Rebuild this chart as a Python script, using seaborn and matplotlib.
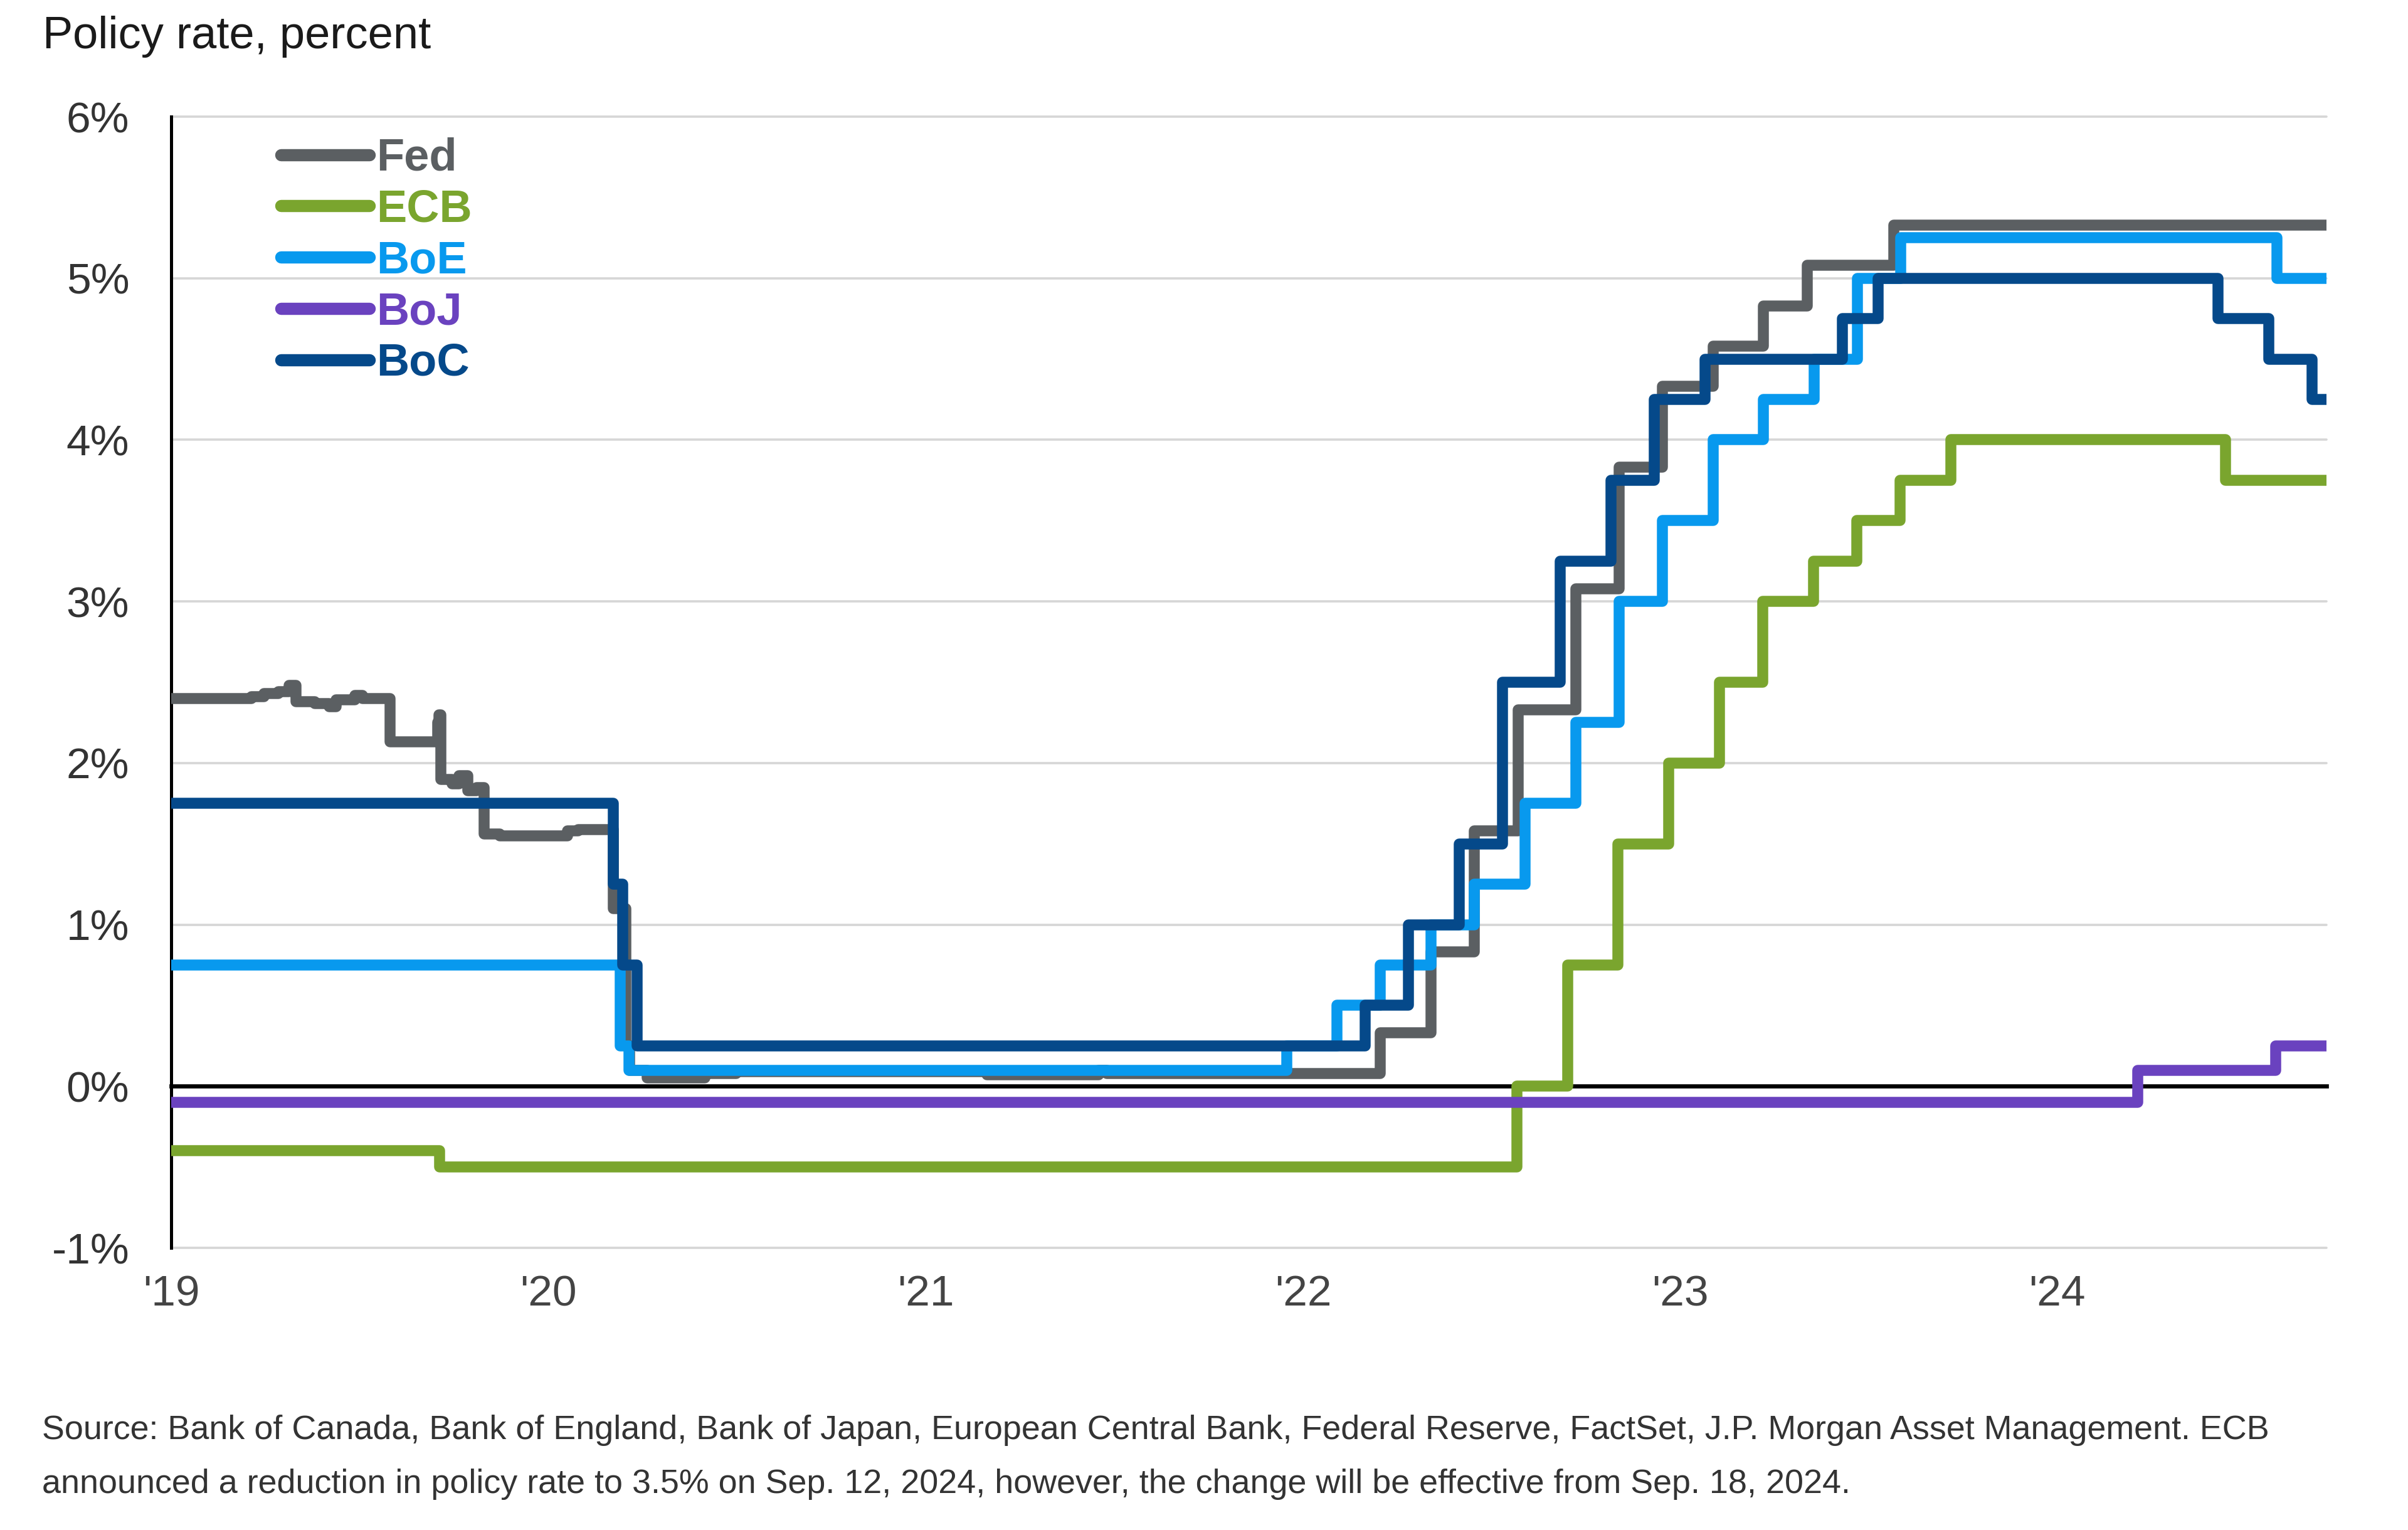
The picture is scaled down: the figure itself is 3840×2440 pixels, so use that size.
import matplotlib
matplotlib.use("Agg")
import matplotlib.pyplot as plt
from matplotlib.lines import Line2D
import seaborn as sns
import pandas as pd

# ---------------- data ----------------
banks = ["Fed", "ECB", "BoE", "BoJ", "BoC"]
colors = ["#5b5f62", "#7aa52e", "#0899ee", "#6a42bf", "#05498a"]

fed_dates = ["2019-01-01", "2019-03-20", "2019-04-01", "2019-04-15", "2019-04-25", "2019-05-02",
             "2019-05-20", "2019-06-03", "2019-06-10", "2019-06-28", "2019-07-05", "2019-08-01",
             "2019-09-16", "2019-09-17", "2019-09-19", "2019-09-30", "2019-10-07", "2019-10-15",
             "2019-10-24", "2019-10-31", "2019-11-15", "2020-01-20", "2020-01-30", "2020-03-04",
             "2020-03-16", "2020-03-20", "2020-04-06", "2020-06-01", "2020-07-01", "2021-03-01",
             "2021-06-17", "2021-06-25", "2022-03-17", "2022-05-05", "2022-06-16", "2022-07-28",
             "2022-09-22", "2022-11-03", "2022-12-15", "2023-02-02", "2023-03-23", "2023-05-04",
             "2023-07-27", "2024-09-18"]
fed_rates = [2.40, 2.41, 2.43, 2.44, 2.48, 2.38,
             2.37, 2.35, 2.39, 2.42, 2.40, 2.13,
             2.25, 2.30, 1.90, 1.87, 1.92, 1.83,
             1.85, 1.56, 1.55, 1.58, 1.59, 1.10,
             0.25, 0.10, 0.05, 0.08, 0.09, 0.07,
             0.10, 0.08, 0.33, 0.83, 1.58, 2.33,
             3.08, 3.83, 4.33, 4.58, 4.83, 5.08,
             5.33, 5.33]

ecb_dates = ["2019-01-01", "2019-09-18", "2022-07-27", "2022-09-14", "2022-11-02", "2022-12-21",
             "2023-02-08", "2023-03-22", "2023-05-10", "2023-06-21", "2023-08-02", "2023-09-20",
             "2024-06-12", "2024-09-18"]
ecb_rates = [-0.40, -0.50, 0.00, 0.75, 1.50, 2.00,
             2.50, 3.00, 3.25, 3.50, 3.75, 4.00,
             3.75, 3.75]

boe_dates = ["2019-01-01", "2020-03-11", "2020-03-19", "2021-12-16", "2022-02-03", "2022-03-17",
             "2022-05-05", "2022-06-16", "2022-08-04", "2022-09-22", "2022-11-03", "2022-12-15",
             "2023-02-02", "2023-03-23", "2023-05-11", "2023-06-22", "2023-08-03", "2024-08-01",
             "2024-09-18"]
boe_rates = [0.75, 0.25, 0.10, 0.25, 0.50, 0.75,
             1.00, 1.25, 1.75, 2.25, 3.00, 3.50,
             4.00, 4.25, 4.50, 5.00, 5.25, 5.00,
             5.00]

boj_dates = ["2019-01-01", "2024-03-19", "2024-07-31", "2024-09-18"]
boj_rates = [-0.10, 0.10, 0.25, 0.25]

boc_dates = ["2019-01-01", "2020-03-04", "2020-03-13", "2020-03-27", "2022-03-02", "2022-04-13",
             "2022-06-01", "2022-07-13", "2022-09-07", "2022-10-26", "2022-12-07", "2023-01-25",
             "2023-06-07", "2023-07-12", "2024-06-05", "2024-07-24", "2024-09-04", "2024-09-18"]
boc_rates = [1.75, 1.25, 0.75, 0.25, 0.50, 1.00,
             1.50, 2.50, 3.25, 3.75, 4.25, 4.50,
             4.75, 5.00, 4.75, 4.50, 4.25, 4.25]

year_ticks = ["2019-01-01", "2020-01-01", "2021-01-01", "2022-01-01", "2023-01-01", "2024-01-01"]
year_labels = ["'19", "'20", "'21", "'22", "'23", "'24"]
y_ticks = [-1, 0, 1, 2, 3, 4, 5, 6]
y_labels = ["-1%", "0%", "1%", "2%", "3%", "4%", "5%", "6%"]

title = "Policy rate, percent"
note1 = ("Source: Bank of Canada, Bank of England, Bank of Japan, European Central Bank, Federal Reserve, "
         "FactSet, J.P. Morgan Asset Management. ECB")
note2 = "announced a reduction in policy rate to 3.5% on Sep. 12, 2024, however, the change will be effective from Sep. 18, 2024."

series = {
    "Fed": (fed_dates, fed_rates),
    "ECB": (ecb_dates, ecb_rates),
    "BoE": (boe_dates, boe_rates),
    "BoJ": (boj_dates, boj_rates),
    "BoC": (boc_dates, boc_rates),
}

frames = []
for b in banks:
    d, r = series[b]
    frames.append(pd.DataFrame({"bank": b, "date": pd.to_datetime(d), "rate": r}))
df = pd.concat(frames, ignore_index=True)

# ---------------- plot ----------------
sns.set_theme(style="white")
plt.rcParams["font.family"] = ["Liberation Sans", "DejaVu Sans"]

W, H = 3840, 2440
fig = plt.figure(figsize=(19.2, 12.2), dpi=200)
ax = fig.add_axes([273 / W, 1 - 1990 / H, (3710 - 273) / W, (1990 - 186) / H])

LW = 6.3
for i, (b, c) in enumerate(zip(banks, colors)):
    sns.lineplot(data=df[df["bank"] == b], x="date", y="rate", ax=ax, color=c,
                 linewidth=LW, drawstyle="steps-post", estimator=None, legend=False,
                 zorder=3 + i, solid_capstyle="butt", solid_joinstyle="round")

ax.set_xlim(pd.Timestamp("2019-01-01"), pd.Timestamp("2024-09-18"))
ax.set_ylim(-1, 6)
ax.set_xlabel("")
ax.set_ylabel("")

ax.set_yticks(y_ticks)
ax.set_yticklabels(y_labels)
ax.set_xticks(pd.to_datetime(year_ticks))
ax.set_xticklabels(year_labels)

ax.yaxis.grid(True, color="#d6d6d6", linewidth=1.3)
ax.xaxis.grid(False)
for gl in ax.yaxis.get_gridlines():
    gl.set_clip_on(False)
ax.set_axisbelow(True)

for s in ["top", "right"]:
    ax.spines[s].set_visible(False)
ax.spines["left"].set_color("black")
ax.spines["left"].set_linewidth(1.8)
ax.spines["bottom"].set_position(("data", 0))
ax.spines["bottom"].set_color("black")
ax.spines["bottom"].set_linewidth(2.4)
ax.spines["bottom"].set_zorder(2)

ax.tick_params(axis="y", length=0, pad=24, labelsize=25, labelcolor="#333333")
ax.tick_params(axis="x", direction="out", length=4, width=1.5, color="black",
               pad=104, labelsize=25, labelcolor="#444444")

handles = [Line2D([0], [0], color=c, lw=7.0, solid_capstyle="round") for c in colors]
leg = ax.legend(handles, banks, loc="upper left", frameon=False,
                bbox_to_anchor=(448 / W, 1 - 219 / H), bbox_transform=fig.transFigure,
                prop={"weight": "bold", "size": 26}, handlelength=1.95, handletextpad=0.15,
                labelspacing=0.19, borderpad=0, borderaxespad=0)
for t, c in zip(leg.get_texts(), colors):
    t.set_color(c)

fig.text(68 / W, 1 - 58 / H, title, fontsize=26, color="#1a1a1a", va="center", ha="left")
fig.text(67 / W, 1 - 2281 / H, note1, fontsize=19.4, color="#333333", va="center", ha="left")
fig.text(67 / W, 1 - 2367 / H, note2, fontsize=19.4, color="#333333", va="center", ha="left")

fig.savefig("out.png", dpi=200, facecolor="white")
